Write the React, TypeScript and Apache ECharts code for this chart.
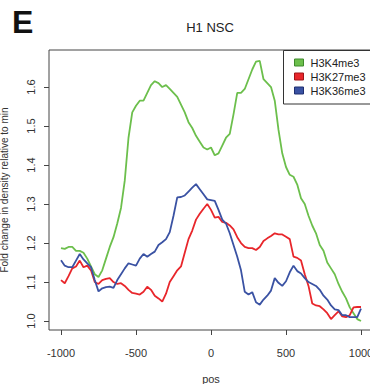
import React, { useEffect, useRef } from "react";
import * as echarts from "echarts";

const positions = [
  -1000, -975, -950, -925, -900, -875, -850, -825, -800, -775, -750, -725, -700, -675, -650, -625, -600, -575, -550, -525,
  -500, -475, -450, -425, -400, -375, -350, -325, -300, -275, -250, -225, -200, -175, -150, -125, -100, -75, -50, -25,
  0, 25, 50, 75, 100, 125, 150, 175, 200, 225, 250, 275, 300, 325, 350, 375, 400, 425, 450, 475,
  500, 525, 550, 575, 600, 625, 650, 675, 700, 725, 750, 775, 800, 825, 850, 875, 900, 925, 950, 975, 1000,
];

const h3k4me3 = [
  1.187, 1.185, 1.19, 1.19, 1.18, 1.18, 1.175, 1.16, 1.14, 1.12, 1.113, 1.13, 1.16, 1.19, 1.215, 1.25, 1.29, 1.36, 1.47, 1.535,
  1.552, 1.565, 1.565, 1.585, 1.605, 1.615, 1.61, 1.6, 1.605, 1.595, 1.585, 1.575, 1.555, 1.535, 1.51, 1.495, 1.475, 1.46, 1.445, 1.44,
  1.445, 1.425, 1.43, 1.45, 1.47, 1.48, 1.53, 1.585, 1.585, 1.595, 1.62, 1.645, 1.665, 1.667, 1.62, 1.61, 1.6, 1.565, 1.49, 1.43,
  1.395, 1.375, 1.37, 1.35, 1.315, 1.3, 1.27, 1.245, 1.225, 1.195, 1.18, 1.15, 1.135, 1.12, 1.095, 1.075, 1.058, 1.035, 1.02, 1.005, 1.0,
];

const h3k27me3 = [
  1.105, 1.097, 1.115, 1.135, 1.14, 1.155, 1.138, 1.142, 1.13, 1.1, 1.095, 1.105, 1.108, 1.11, 1.1, 1.095, 1.097, 1.09, 1.08, 1.072,
  1.07, 1.068, 1.075, 1.088, 1.08, 1.065, 1.058, 1.05, 1.07, 1.1, 1.115, 1.13, 1.14, 1.175, 1.21, 1.232, 1.26, 1.275, 1.288, 1.3,
  1.285, 1.265, 1.267, 1.254, 1.252, 1.245, 1.235, 1.215, 1.2, 1.19, 1.187, 1.187, 1.182, 1.19, 1.205, 1.212, 1.218, 1.225, 1.222, 1.222,
  1.216, 1.21, 1.165, 1.162, 1.155, 1.12, 1.09, 1.045, 1.04, 1.038, 1.03, 1.02, 1.005, 1.015, 1.025, 1.012, 1.01, 1.015, 1.035, 1.036, 1.036,
];

const h3k36me3 = [
  1.156, 1.142, 1.138, 1.138, 1.155, 1.172, 1.158, 1.148, 1.138, 1.105, 1.076, 1.084, 1.087, 1.088, 1.085, 1.105, 1.12, 1.135, 1.148, 1.145,
  1.142, 1.16, 1.172, 1.165, 1.172, 1.178, 1.195, 1.202, 1.21, 1.228, 1.27, 1.317, 1.318, 1.322, 1.332, 1.342, 1.351, 1.338, 1.325, 1.312,
  1.31, 1.308, 1.285, 1.26, 1.25, 1.225, 1.195, 1.165, 1.13, 1.075, 1.068, 1.074, 1.048, 1.042, 1.055, 1.065, 1.078, 1.11, 1.098, 1.09,
  1.102, 1.125, 1.142, 1.128, 1.122, 1.11, 1.1, 1.095, 1.09, 1.08, 1.065, 1.055, 1.04, 1.03, 1.028, 1.015, 1.015, 1.01, 1.01, 1.01, 1.032,
];

const xTicks = [-1000, -500, 0, 500, 1000];
const yTicks = [1.0, 1.1, 1.2, 1.3, 1.4, 1.5, 1.6];
const seriesNames = ["H3K4me3", "H3K27me3", "H3K36me3"];
const seriesColors = ["#6cbf4c", "#e8262b", "#3a52a3"];
const seriesBorders = ["#3f8a2c", "#a01418", "#1f2f70"];

const FONT = "'Liberation Sans', Arial, Helvetica, sans-serif";

export default function App() {
  const ref = useRef<HTMLDivElement>(null);

  useEffect(() => {
    if (!ref.current) return;
    const chart = echarts.init(ref.current, undefined, { renderer: "svg" });
    const allSeries = [h3k4me3, h3k27me3, h3k36me3];
    chart.setOption({
      animation: false,
      backgroundColor: "#ffffff",
      textStyle: { fontFamily: FONT },
      title: {
        text: "H1 NSC",
        left: 205,
        top: 16,
        textAlign: "center",
        textStyle: { fontFamily: FONT, fontSize: 13, fontWeight: "normal", color: "#222" },
      },
      grid: {
        left: 49,
        top: 50,
        width: 324,
        height: 280,
        containLabel: false,
        outerBoundsMode: "none",
        show: true,
        borderColor: "#444",
        borderWidth: 1,
        backgroundColor: "transparent",
      },
      legend: {
        orient: "vertical",
        left: 294,
        top: 57,
        itemWidth: 9,
        itemHeight: 7,
        itemGap: 3,
        icon: "rect",
        padding: 0,
        z: 10,
        data: seriesNames.map((n, i) => ({
          name: n,
          itemStyle: { color: seriesColors[i], borderColor: seriesBorders[i], borderWidth: 1 },
        })),
        textStyle: { fontFamily: FONT, fontSize: 11, color: "#222", padding: [0, 0, 0, 2] },
      },
      xAxis: {
        type: "value",
        min: -1080,
        max: 1080,
        name: "pos",
        nameLocation: "middle",
        nameGap: 43,
        nameMoveOverlap: false,
        nameTextStyle: { fontFamily: FONT, fontSize: 11, color: "#333" },
        axisLine: { show: false, onZero: false },
        axisTick: { show: true, length: 5, customValues: xTicks, lineStyle: { color: "#444" } },
        axisLabel: {
          customValues: xTicks,
          fontSize: 11,
          color: "#333",
          margin: 17,
          fontFamily: FONT,
          hideOverlap: false,
          formatter: (v: number) => String(Math.round(v)),
        },
        splitLine: { show: false },
      },
      yAxis: {
        type: "value",
        min: 0.977,
        max: 1.695,
        name: "Fold change in density relative to min",
        nameLocation: "middle",
        nameGap: 40,
        nameMoveOverlap: false,
        nameTextStyle: { fontFamily: FONT, fontSize: 10, color: "#333" },
        axisLine: { show: false, onZero: false },
        axisTick: { show: true, length: 5, customValues: yTicks, lineStyle: { color: "#444" } },
        axisLabel: {
          customValues: yTicks,
          fontSize: 11,
          color: "#333",
          rotate: 90,
          margin: 13,
          fontFamily: FONT,
          formatter: (v: number) => v.toFixed(1),
        },
        splitLine: { show: false },
      },
      graphic: [
        {
          type: "text",
          left: 12,
          top: 6,
          style: { text: "E", fontFamily: FONT, fontSize: 32, fontWeight: "bold", fill: "#111" },
        },
        {
          type: "rect",
          z: 8,
          shape: { x: 283.5, y: 50.5, width: 100, height: 53.5 },
          style: { fill: "#ffffff", stroke: "#333", lineWidth: 1 },
        },
      ],
      series: allSeries.map((vals, i) => ({
        name: seriesNames[i],
        type: "line",
        showSymbol: false,
        symbol: "none",
        data: positions.map((p, j) => [p, vals[j]]),
        lineStyle: { color: seriesColors[i], width: 1.8 },
        itemStyle: { color: seriesColors[i] },
        z: 2,
      })),
    });
    return () => chart.dispose();
  }, []);

  return (
    <div style={{ position: "fixed", left: 0, top: 0, width: 370, height: 384, overflow: "hidden", background: "#fff" }}>
      <div ref={ref} style={{ width: 380, height: 384 }} />
    </div>
  );
}
